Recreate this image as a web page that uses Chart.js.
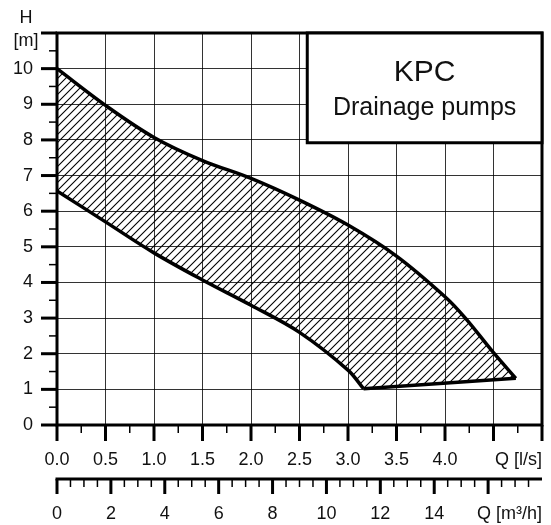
<!DOCTYPE html>
<html>
<head>
<meta charset="utf-8">
<script src="https://cdn.jsdelivr.net/npm/chart.js@4/dist/chart.umd.min.js"></script>
<style>
  html, body { margin: 0; padding: 0; background: #fff; }
  #wrap { width: 551px; height: 525px; }
</style>
</head>
<body>
<div id="wrap"><canvas id="pumpChart"></canvas></div>
<script>
// Upper limit of the KPC range (Q in l/s, H in m)
const flowUpper = [0, 0.5, 1.0, 1.5, 2.0, 2.5, 3.0, 3.5, 4.0, 4.21, 4.5, 4.73];
const headUpper = [10, 8.97, 8.07, 7.42, 6.92, 6.31, 5.61, 4.74, 3.6, 3.0, 2.03, 1.31];
// Lower limit
const flowLower = [0, 0.5, 1.0, 1.5, 2.0, 2.5, 3.0, 3.16];
const headLower = [6.57, 5.7, 4.83, 4.07, 3.36, 2.6, 1.54, 1.02];

// Tick labels
const headLabels = ["0", "1", "2", "3", "4", "5", "6", "7", "8", "9", "10"];
const lsLabels = ["0.0", "0.5", "1.0", "1.5", "2.0", "2.5", "3.0", "3.5", "4.0"];
const m3hLabels = ["0", "2", "4", "6", "8", "10", "12", "14"];

const FONT = "'Liberation Sans', Arial, sans-serif";

const toPoints = (xs, ys) => xs.map((x, i) => ({ x: x, y: ys[i] }));
const upperPts = toPoints(flowUpper, headUpper);
const lowerPts = toPoints(flowLower, headLower);
// closed outline for the hatched area: upper curve, then lower curve back
const bandPts = upperPts.concat(lowerPts.slice().reverse(), [upperPts[0]]);

// diagonal hatch
function makeHatch() {
  const c = document.createElement("canvas");
  c.width = 8;
  c.height = 8;
  const g = c.getContext("2d");
  g.strokeStyle = "#000";
  g.lineWidth = 1.1;
  g.beginPath();
  g.moveTo(-2, 10); g.lineTo(10, -2);
  g.moveTo(-1, 1); g.lineTo(1, -1);
  g.moveTo(7, 9); g.lineTo(9, 7);
  g.stroke();
  return g.createPattern(c, "repeat");
}

// frame, axis ticks, axis captions and the title box
const chartFrame = {
  id: "chartFrame",
  afterDatasetsDraw(chart) {
    const { ctx, chartArea: a, scales } = chart;
    const x = scales.x, y = scales.y, x2 = scales.x2;
    ctx.save();
    ctx.strokeStyle = "#000";
    ctx.lineCap = "butt";

    // outer frame
    ctx.lineWidth = 3;
    ctx.strokeRect(a.left, a.top, a.right - a.left, a.bottom - a.top);

    // y ticks
    for (let v = 0; v <= 11; v += 0.5) {
      const p = y.getPixelForValue(v);
      const major = Number.isInteger(v);
      ctx.lineWidth = major ? 3 : 1.5;
      ctx.beginPath();
      ctx.moveTo(a.left - (major ? 16 : 8), p);
      ctx.lineTo(a.left, p);
      ctx.stroke();
    }

    // l/s ticks
    for (let v = 0; v <= 5.001; v += 0.25) {
      const p = x.getPixelForValue(v);
      const major = Math.abs(v * 2 - Math.round(v * 2)) < 1e-6;
      ctx.lineWidth = major ? 3 : 1.5;
      ctx.beginPath();
      ctx.moveTo(p, a.bottom);
      ctx.lineTo(p, a.bottom + (major ? 16 : 8));
      ctx.stroke();
    }

    // m3/h axis
    const ax = x2.top + 2;
    ctx.lineWidth = 3;
    ctx.beginPath();
    ctx.moveTo(a.left - 1.5, ax);
    ctx.lineTo(a.right, ax);
    ctx.stroke();
    for (let v = 0; v < 17.9; v += 0.5) {
      const p = x2.getPixelForValue(v);
      const major = v % 2 === 0;
      ctx.lineWidth = major ? 3 : 1.5;
      ctx.beginPath();
      ctx.moveTo(p, ax);
      ctx.lineTo(p, ax + (major ? 15 : 8));
      ctx.stroke();
    }

    // captions
    ctx.fillStyle = "#111";
    ctx.font = "18px " + FONT;
    ctx.textBaseline = "middle";
    ctx.textAlign = "center";
    ctx.fillText("H", 26, 18);
    ctx.fillText("[m]", 26, 41);
    ctx.textAlign = "right";
    ctx.fillText("Q [l/s]", a.right, a.bottom + 35);
    ctx.fillText("Q [m\u00b3/h]", a.right, x2.top + 37);

    // title box
    const bx = x.getPixelForValue(2.58);
    const by = y.getPixelForValue(7.92);
    ctx.fillStyle = "#fff";
    ctx.fillRect(bx, a.top, a.right - bx, by - a.top);
    ctx.lineWidth = 3;
    ctx.strokeRect(bx, a.top, a.right - bx, by - a.top);
    const cx = (bx + a.right) / 2;
    ctx.fillStyle = "#111";
    ctx.textAlign = "center";
    ctx.font = "30px " + FONT;
    ctx.fillText("KPC", cx, a.top + 40);
    ctx.font = "25px " + FONT;
    ctx.fillText("Drainage pumps", cx, a.top + 75);
    ctx.restore();
  },
};

const canvasElement = document.querySelector("#pumpChart");

const lineStyle = {
  showLine: true,
  borderColor: "#000",
  borderWidth: 3.5,
  pointRadius: 0,
  fill: false,
  order: 1,
};

const config = {
  type: "scatter",
  data: {
    datasets: [
      { ...lineStyle, label: "upper", data: upperPts, tension: 0.35 },
      { ...lineStyle, label: "lower", data: lowerPts, tension: 0.35 },
      {
        ...lineStyle,
        label: "end",
        data: [upperPts[upperPts.length - 1], lowerPts[lowerPts.length - 1]],
      },
      {
        label: "range",
        data: bandPts,
        showLine: true,
        borderWidth: 0,
        borderColor: "rgba(0,0,0,0)",
        backgroundColor: makeHatch(),
        pointRadius: 0,
        tension: 0,
        fill: "shape",
        order: 2,
      },
    ],
  },
  options: {
    responsive: true,
    maintainAspectRatio: false,
    animation: false,
    layout: { padding: { top: 33, right: 9, left: 0, bottom: 0 } },
    plugins: {
      legend: { display: false },
      tooltip: { enabled: false },
    },
    scales: {
      x: {
        type: "linear",
        position: "bottom",
        weight: 0,
        min: 0,
        max: 5,
        afterFit: (s) => { s.height = 52; },
        border: { display: false },
        // ticks are drawn by the plugin; the invisible tick length only spaces the labels
        grid: { color: "rgba(0,0,0,0.8)", lineWidth: 1, drawTicks: true, tickLength: 24, tickColor: "rgba(0,0,0,0)" },
        ticks: {
          stepSize: 0.5,
          autoSkip: false,
          maxRotation: 0,
          padding: 0,
          color: "#111",
          font: { family: FONT, size: 18 },
          callback: (v, i) => lsLabels[i] ?? "",
        },
      },
      x2: {
        type: "linear",
        position: "bottom",
        weight: 1,
        min: 0,
        max: 18,
        afterFit: (s) => { s.height = 48; },
        border: { display: false },
        grid: { display: false, drawTicks: true, tickLength: 26 },
        ticks: {
          stepSize: 2,
          autoSkip: false,
          maxRotation: 0,
          padding: 0,
          color: "#111",
          font: { family: FONT, size: 18 },
          callback: (v, i) => m3hLabels[i] ?? "",
        },
      },
      y: {
        type: "linear",
        min: 0,
        max: 11,
        afterFit: (s) => { s.width = 57; },
        border: { display: false },
        grid: { color: "rgba(0,0,0,0.8)", lineWidth: 1, drawTicks: true, tickLength: 24, tickColor: "rgba(0,0,0,0)" },
        ticks: {
          stepSize: 1,
          autoSkip: false,
          padding: 0,
          color: "#111",
          font: { family: FONT, size: 18 },
          callback: (v, i) => headLabels[i] ?? "",
        },
      },
    },
  },
  plugins: [chartFrame],
};

const pumpChart = new Chart(canvasElement, config);
</script>
</body>
</html>
